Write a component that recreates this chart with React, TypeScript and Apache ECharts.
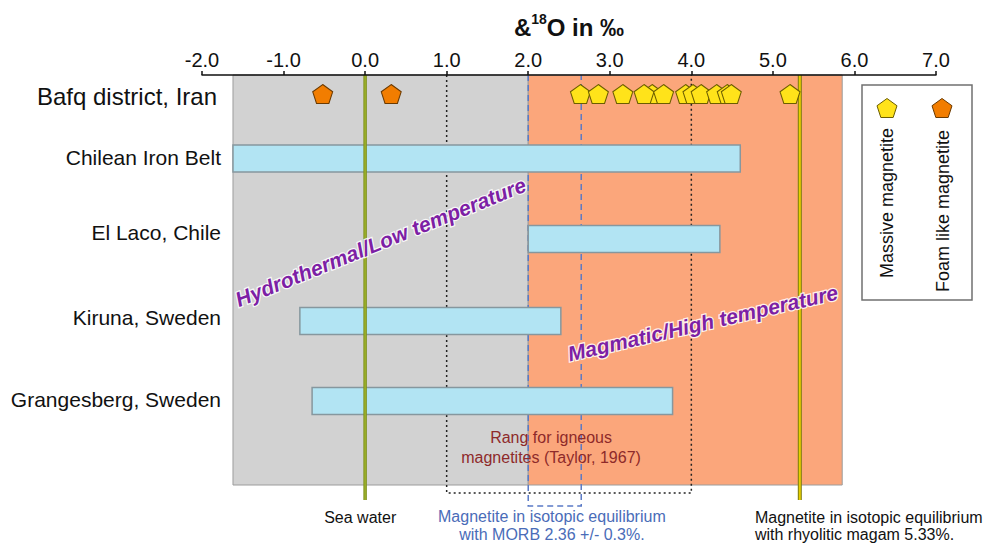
import React, { useEffect, useRef } from 'react';
import * as echarts from 'echarts';

// ---------- data ----------
const categories = ['Bafq district, Iran', 'Chilean Iron Belt', 'El Laco, Chile', 'Kiruna, Sweden', 'Grangesberg, Sweden'];
const labelPos = [2.1, 8.2, 15.7, 24.2, 32.4];
const rowPos = [1.9, 8.35, 16.4, 24.6, 32.6];
const rangeLow = [null, -1.62, 2.0, -0.8, -0.65];
const rangeHigh = [null, 4.6, 4.35, 2.4, 3.77];
const massiveMagnetite = [2.64, 2.86, 3.16, 3.52, 3.42, 3.66, 3.93, 4.02, 4.12, 4.31, 4.44, 4.49, 5.21];
const foamMagnetite = [-0.52, 0.32];
const xTicks = [-2, -1, 0, 1, 2, 3, 4, 5, 6, 7];
const fieldNames = ['Hydrothermal/Low temperature', 'Magmatic/High temperature'];
const fieldLow = [-1.62, 2.0];
const fieldHigh = [2.0, 5.85];
const seaWater = 0.0;
const rhyoliticMagma = 5.33;
const morbRange = [2.0, 2.65];
const taylorRange = [1.0, 4.0];

// ---------- layout helpers (vertical scale of the hidden y axis) ----------
const Y_MAX = 43.5;
const FIELD_BOTTOM = 41;
const TAYLOR_BOTTOM = 41.8;
const LINE_BOTTOM = 42.5;
const MORB_BOTTOM = 43.1;
const FONT = 'Liberation Sans, Arial, sans-serif';
const PENTAGON = 'path://M0,-1L0.951,-0.309L0.588,0.809L-0.588,0.809L-0.951,-0.309Z';

function noteSeries(text: string, x: number, y: number, style: any, rotationDeg = 0) {
  return {
    type: 'custom',
    z: 8,
    silent: true,
    data: [[x, y]],
    renderItem: (_p: any, api: any) => {
      const c = api.coord([api.value(0), api.value(1)]);
      return {
        type: 'text',
        x: c[0],
        y: c[1],
        rotation: (rotationDeg * Math.PI) / 180,
        style: Object.assign({ text, fontFamily: FONT, align: 'center', verticalAlign: 'middle' }, style),
      };
    },
  };
}

function pentagonPoints(cx: number, cy: number, r: number) {
  const pts: number[][] = [];
  for (let i = 0; i < 5; i++) {
    const a = ((-90 + i * 72) * Math.PI) / 180;
    pts.push([cx + r * Math.cos(a), cy + r * Math.sin(a)]);
  }
  return pts;
}

export default function App() {
  const ref = useRef<HTMLDivElement>(null);
  useEffect(() => {
    if (!ref.current) return;
    const chart = echarts.init(ref.current, null, { renderer: 'svg' });
    const fieldColors = ['#d2d2d2', '#fba67b'];
    const option: any = {
      animation: false,
      backgroundColor: '#ffffff',
      grid: { left: 202, right: 56, top: 75, bottom: 33, outerBoundsMode: 'none' },
      xAxis: {
        type: 'value',
        position: 'top',
        min: xTicks[0],
        max: xTicks[xTicks.length - 1],
        interval: 1,
        z: 10,
        name: '{b|&}{sup|18}{b|O in ‰}',
        nameLocation: 'middle',
        nameGap: 33,
        nameTextStyle: {
          rich: {
            b: { fontSize: 24, fontWeight: 'bold', fontFamily: FONT, color: '#111', lineHeight: 30 },
            sup: { fontSize: 14, fontWeight: 'bold', fontFamily: FONT, color: '#111', verticalAlign: 'top', lineHeight: 16 },
          },
        },
        axisLine: { lineStyle: { color: '#111', width: 1.5 } },
        axisTick: { show: true, length: 4, inside: false, lineStyle: { color: '#111', width: 1.5 } },
        axisLabel: {
          fontSize: 20,
          fontFamily: FONT,
          color: '#111',
          margin: 5,
          formatter: (v: number) => v.toFixed(1),
        },
        splitLine: { show: false },
      },
      yAxis: {
        type: 'value',
        inverse: true,
        min: 0,
        max: Y_MAX,
        axisLine: { show: false },
        axisTick: { show: false },
        splitLine: { show: false },
        axisLabel: {
          customValues: labelPos,
          margin: -19,
          fontSize: 21,
          fontFamily: FONT,
          color: '#111',
          formatter: (v: number) => {
            const i = labelPos.indexOf(v);
            if (i < 0) return '';
            return i === 0 ? '{big|' + categories[i] + '}' : categories[i];
          },
          rich: { big: { fontSize: 24, fontFamily: FONT, color: '#111', padding: [0, 4, 0, 0] } },
        },
      },
      graphic: [
        {
          type: 'group',
          z: 20,
          children: [
            { type: 'rect', shape: { x: 862, y: 85, width: 110, height: 215 }, style: { fill: '#fff', stroke: '#707070', lineWidth: 1.5 } },
            { type: 'polygon', shape: { points: pentagonPoints(887, 109, 10.5) }, style: { fill: '#ffe31a', stroke: '#6b5d00', lineWidth: 1 } },
            { type: 'polygon', shape: { points: pentagonPoints(942, 109, 10.5) }, style: { fill: '#f27d00', stroke: '#6b3a00', lineWidth: 1 } },
            { type: 'text', x: 887, y: 203, rotation: Math.PI / 2, style: { text: 'Massive magnetite', fontSize: 18, fontFamily: FONT, fill: '#111', align: 'center', verticalAlign: 'middle' } },
            { type: 'text', x: 943, y: 211, rotation: Math.PI / 2, style: { text: 'Foam like magnetite', fontSize: 18, fontFamily: FONT, fill: '#111', align: 'center', verticalAlign: 'middle' } },
          ],
        },
      ],
      series: [
        // shaded fields
        {
          type: 'custom',
          name: 'fields',
          z: 1,
          silent: true,
          data: fieldLow.map((l, i) => [l, fieldHigh[i], i]),
          renderItem: (_p: any, api: any) => {
            const a = api.coord([api.value(0), 0]);
            const b = api.coord([api.value(1), FIELD_BOTTOM]);
            return {
              type: 'rect',
              shape: { x: a[0], y: a[1], width: b[0] - a[0], height: b[1] - a[1] },
              style: { fill: fieldColors[api.value(2)], stroke: '#9c9c9c', lineWidth: 1 },
            };
          },
        },
        // Taylor (dotted) and MORB (dashed) boxes
        {
          type: 'custom',
          name: 'guides',
          z: 2,
          silent: true,
          data: [[taylorRange[0], taylorRange[1], morbRange[0], morbRange[1]]],
          renderItem: (_p: any, api: any) => {
            const t0 = api.coord([api.value(0), 0]);
            const t1 = api.coord([api.value(1), TAYLOR_BOTTOM]);
            const m0 = api.coord([api.value(2), 0]);
            const m1 = api.coord([api.value(3), MORB_BOTTOM]);
            const dotted = { stroke: '#222', lineWidth: 1.5, lineDash: [2, 3], fill: null };
            const dashed = { stroke: '#5a7ac6', lineWidth: 1.5, lineDash: [6, 4], fill: null };
            return {
              type: 'group',
              children: [
                { type: 'polyline', shape: { points: [[t0[0], t0[1]], [t0[0], t1[1]], [t1[0], t1[1]], [t1[0], t0[1]]] }, style: dotted },
                { type: 'polyline', shape: { points: [[m0[0], m0[1]], [m0[0], m1[1]], [m1[0], m1[1]], [m1[0], m0[1]]] }, style: dashed },
              ],
            };
          },
        },
        // deposit ranges
        {
          type: 'custom',
          name: 'ranges',
          z: 3,
          silent: true,
          data: rangeLow
            .map((l, i) => (l === null ? null : [l, rangeHigh[i], rowPos[i]]))
            .filter((d) => d !== null),
          renderItem: (_p: any, api: any) => {
            const a = api.coord([api.value(0), api.value(2)]);
            const b = api.coord([api.value(1), api.value(2)]);
            const h = 27;
            return {
              type: 'rect',
              shape: { x: a[0], y: a[1] - h / 2, width: b[0] - a[0], height: h },
              style: { fill: '#b2e4f3', stroke: '#86979e', lineWidth: 1.5 },
            };
          },
        },
        // reference lines: sea water and rhyolitic magma
        {
          type: 'custom',
          name: 'refLines',
          z: 4,
          silent: true,
          data: [[seaWater, 0], [rhyoliticMagma, 1]],
          renderItem: (_p: any, api: any) => {
            const a = api.coord([api.value(0), 0]);
            const b = api.coord([api.value(0), LINE_BOTTOM]);
            const sea = api.value(1) === 0;
            return {
              type: 'group',
              children: [
                { type: 'line', shape: { x1: a[0], y1: a[1], x2: b[0], y2: b[1] }, style: { stroke: sea ? '#7f921c' : '#7c7a10', lineWidth: sea ? 3.5 : 4 } },
                { type: 'line', shape: { x1: a[0], y1: a[1], x2: b[0], y2: b[1] }, style: { stroke: sea ? '#9cb02a' : '#e6cf00', lineWidth: sea ? 1.5 : 2 } },
              ],
            };
          },
        },
        {
          type: 'scatter',
          name: 'Foam like magnetite',
          z: 5,
          symbol: PENTAGON,
          symbolSize: [20, 19],
          itemStyle: { color: '#f27d00', borderColor: '#6b3a00', borderWidth: 1, opacity: 1 },
          data: foamMagnetite.map((v) => [v, rowPos[0]]),
        },
        {
          type: 'scatter',
          name: 'Massive magnetite',
          z: 5,
          symbol: PENTAGON,
          symbolSize: [20, 19],
          itemStyle: { color: '#ffe31a', borderColor: '#6b5d00', borderWidth: 1, opacity: 1 },
          data: massiveMagnetite.map((v) => [v, rowPos[0]]),
        },
        noteSeries(fieldNames[0], 0.19, 16.7, {
          fontSize: 21, fontWeight: 'bold', fontStyle: 'italic', fill: '#7d1fa5', stroke: 'rgba(255,255,255,0.85)', lineWidth: 2.5,
        }, 22),
        noteSeries(fieldNames[1], 4.14, 24.8, {
          fontSize: 21, fontWeight: 'bold', fontStyle: 'italic', fill: '#7d1fa5', stroke: 'rgba(255,255,255,0.85)', lineWidth: 2.5,
        }, 13),
        noteSeries('Rang for igneous\nmagnetites (Taylor, 1967)', 2.28, 37.2, { fontSize: 16, lineHeight: 20, fill: '#8e2a2a' }),
        noteSeries('Sea water', -0.06, 44.2, { fontSize: 16, fill: '#111' }),
        noteSeries('Magnetite in isotopic equilibrium\nwith MORB 2.36 +/- 0.3%.', 2.29, 45.0, { fontSize: 16, lineHeight: 18, fill: '#4a6cb8' }),
        noteSeries('Magnetite in isotopic equilibrium\nwith rhyolitic magam 5.33%.', 4.78, 45.1, { fontSize: 16, lineHeight: 17, fill: '#111', align: 'left' }),
      ],
    };
    chart.setOption(option);
    return () => chart.dispose();
  }, []);
  return <div ref={ref} style={{ position: 'fixed', left: 0, top: 0, width: 992, height: 543 }} />;
}
